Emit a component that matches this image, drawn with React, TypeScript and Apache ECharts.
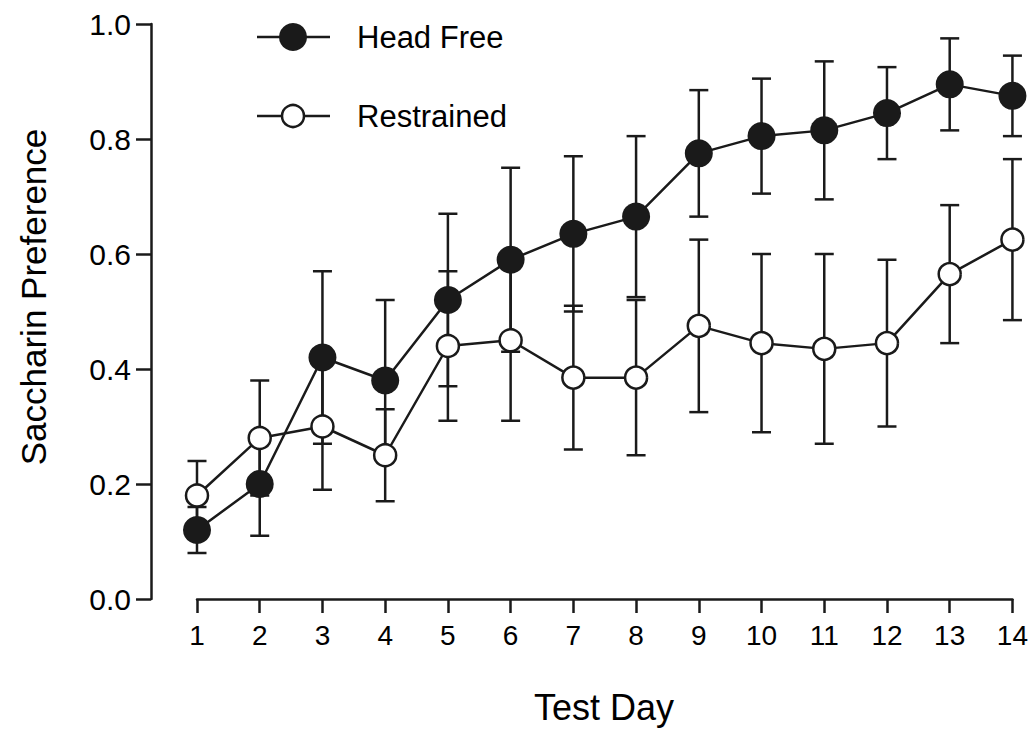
import React, { useEffect, useRef } from "react";
import * as echarts from "echarts";

const days = [1, 2, 3, 4, 5, 6, 7, 8, 9, 10, 11, 12, 13, 14];
const headFree = [0.12, 0.2, 0.42, 0.38, 0.52, 0.59, 0.635, 0.665, 0.775, 0.805, 0.815, 0.845, 0.895, 0.875];
const headFreeErr = [0.04, 0.09, 0.15, 0.14, 0.15, 0.16, 0.135, 0.14, 0.11, 0.1, 0.12, 0.08, 0.08, 0.07];
const restrained = [0.18, 0.28, 0.3, 0.25, 0.44, 0.45, 0.385, 0.385, 0.475, 0.445, 0.435, 0.445, 0.565, 0.625];
const restrainedErr = [0.06, 0.1, 0.11, 0.08, 0.13, 0.14, 0.125, 0.135, 0.15, 0.155, 0.165, 0.145, 0.12, 0.14];
const seriesNames = ["Head Free", "Restrained"];
const yTitle = "Saccharin Preference";
const xTitle = "Test Day";

const INK = "#1a1a1a";
const FONT = "Liberation Sans, Arial, sans-serif";

export default function App() {
  const ref = useRef<HTMLDivElement>(null);
  useEffect(() => {
    if (!ref.current) return;
    const chart = echarts.init(ref.current, undefined, { renderer: "svg" });

    const errData = (vals: number[], errs: number[]) =>
      days.map((d, i) => [d, vals[i], errs[i]]);

    const renderErr = (params: any, api: any) => {
      const x = api.value(0);
      const y = api.value(1);
      const e = api.value(2);
      const top = api.coord([x, y + e]);
      const bot = api.coord([x, y - e]);
      const hw = 9.5;
      const st = { stroke: INK, lineWidth: 2.5 };
      return {
        type: "group",
        children: [
          { type: "line", shape: { x1: top[0], y1: top[1], x2: bot[0], y2: bot[1] }, style: st },
          { type: "line", shape: { x1: top[0] - hw, y1: top[1], x2: top[0] + hw, y2: top[1] }, style: st },
          { type: "line", shape: { x1: bot[0] - hw, y1: bot[1], x2: bot[0] + hw, y2: bot[1] }, style: st },
        ],
      };
    };

    const option: any = {
      animation: false,
      backgroundColor: "#ffffff",
      grid: { left: 197, right: 17, top: 24, bottom: 132, containLabel: false },
      xAxis: {
        type: "value",
        min: 1,
        max: 14,
        interval: 1,
        splitLine: { show: false },
        axisLine: { show: true, lineStyle: { color: INK, width: 2.5 } },
        axisTick: { show: true, length: 14, lineStyle: { color: INK, width: 2.5 } },
        axisLabel: { color: "#000", fontSize: 28, fontFamily: FONT, margin: 22 },
      },
      yAxis: {
        type: "value",
        min: 0,
        max: 1,
        interval: 0.2,
        offset: 46,
        splitLine: { show: false },
        axisLine: { show: true, lineStyle: { color: INK, width: 2.5 } },
        axisTick: { show: true, length: 15, lineStyle: { color: INK, width: 2.5 } },
        axisLabel: {
          color: "#000",
          fontSize: 30,
          fontFamily: FONT,
          margin: 20,
          formatter: (v: number) => v.toFixed(1),
        },
      },
      graphic: [
        { type: "text", x: 33, y: 297, rotation: Math.PI / 2, style: { text: yTitle, font: `35px ${FONT}`, fill: "#000", textAlign: "center", textVerticalAlign: "middle" } },
        { type: "text", x: 604, y: 707, style: { text: xTitle, font: `36px ${FONT}`, fill: "#000", textAlign: "center", textVerticalAlign: "middle" } },
        // legend
        { type: "line", shape: { x1: 257, y1: 37, x2: 330, y2: 37 }, style: { stroke: INK, lineWidth: 2.5 } },
        { type: "circle", shape: { cx: 293, cy: 37, r: 14 }, style: { fill: INK } },
        { type: "text", x: 357, y: 37, style: { text: seriesNames[0], font: `31px ${FONT}`, fill: "#000", textVerticalAlign: "middle" } },
        { type: "line", shape: { x1: 257, y1: 116, x2: 330, y2: 116 }, style: { stroke: INK, lineWidth: 2.5 } },
        { type: "circle", shape: { cx: 293, cy: 116, r: 11 }, style: { fill: "#fff", stroke: INK, lineWidth: 2.5 } },
        { type: "text", x: 357, y: 116, style: { text: seriesNames[1], font: `31px ${FONT}`, fill: "#000", textVerticalAlign: "middle" } },
      ],
      series: [
        {
          type: "custom",
          name: seriesNames[0] + " SEM",
          renderItem: renderErr,
          data: errData(headFree, headFreeErr),
          z: 1,
          silent: true,
        },
        {
          type: "custom",
          name: seriesNames[1] + " SEM",
          renderItem: renderErr,
          data: errData(restrained, restrainedErr),
          z: 1,
          silent: true,
        },
        {
          type: "line",
          name: seriesNames[0],
          data: days.map((d, i) => [d, headFree[i]]),
          symbol: "circle",
          symbolSize: 28,
          lineStyle: { color: INK, width: 2.5 },
          itemStyle: { color: INK, borderWidth: 0 },
          z: 3,
        },
        {
          type: "line",
          name: seriesNames[1],
          data: days.map((d, i) => [d, restrained[i]]),
          symbol: "circle",
          symbolSize: 22,
          lineStyle: { color: INK, width: 2.5 },
          itemStyle: { color: "#ffffff", borderColor: INK, borderWidth: 2.5 },
          z: 4,
        },
      ],
    };
    chart.setOption(option);
    return () => chart.dispose();
  }, []);
  return (
    <div
      ref={ref}
      style={{ position: "fixed", left: 0, top: 0, width: 1031, height: 731, background: "#fff" }}
    />
  );
}
